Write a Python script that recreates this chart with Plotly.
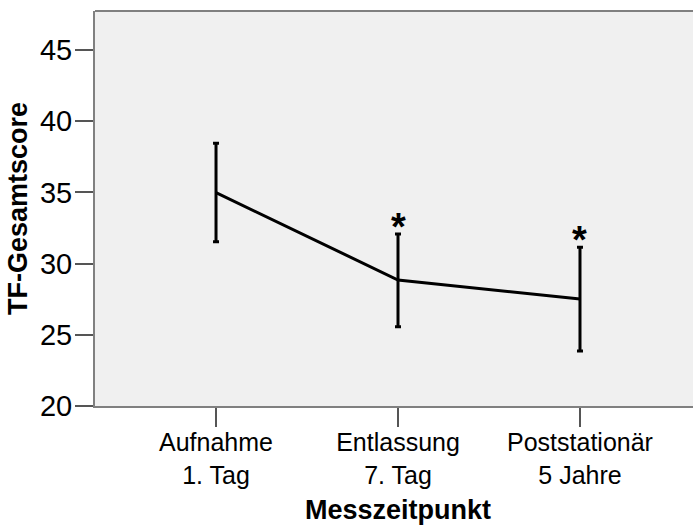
import plotly.graph_objects as go

categories = ["Aufnahme<br>1. Tag", "Entlassung<br>7. Tag", "Poststationär<br>5 Jahre"]
means = [34.98, 28.85, 27.51]
upper = [38.45, 32.08, 31.14]
lower = [31.54, 25.57, 23.86]
significant = [False, True, True]
y_ticks = [20, 25, 30, 35, 40, 45]

x_pos = list(range(len(categories)))
err_plus = [u - m for u, m in zip(upper, means)]
err_minus = [m - l for m, l in zip(means, lower)]

FONT = "Liberation Sans, Arial, sans-serif"

fig = go.Figure()
fig.add_trace(go.Scatter(
    x=x_pos, y=means, mode="lines",
    line=dict(color="black", width=3),
    error_y=dict(type="data", symmetric=False, array=err_plus, arrayminus=err_minus,
                 color="black", thickness=3, width=3),
    showlegend=False, hoverinfo="skip",
))

for xi, up, sig in zip(x_pos, upper, significant):
    if sig:
        fig.add_annotation(x=xi, y=up, text="<b>*</b>", showarrow=False,
                           yanchor="bottom", yshift=-16,
                           font=dict(family=FONT, size=38, color="black"))

fig.add_annotation(text="<b>Messzeitpunkt</b>", xref="paper", yref="paper",
                   x=(398 - 95) / 598, y=-(510 - 406) / 395,
                   xanchor="center", yanchor="middle", showarrow=False,
                   font=dict(family=FONT, size=27, color="black"))

fig.add_shape(type="line", xref="paper", yref="paper", x0=0, x1=1, y0=1, y1=1,
              line=dict(color="#808080", width=2))

fig.update_layout(
    width=693, height=525,
    margin=dict(l=95, r=0, t=11, b=119),
    paper_bgcolor="white", plot_bgcolor="#f0f0f0",
    font=dict(family=FONT, color="black"),
    xaxis=dict(
        range=[-0.665, 2.621], tickmode="array", tickvals=x_pos, ticktext=categories,
        showgrid=False, zeroline=False,
        showline=True, linecolor="#808080", linewidth=2,
        ticks="outside", ticklen=19, tickwidth=1.5, tickcolor="#555555",
        ticklabelstandoff=-6,
        tickfont=dict(family=FONT, size=25, color="black"),
    ),
    yaxis=dict(
        range=[20, 47.74], tickmode="array", tickvals=y_ticks,
        showgrid=False, zeroline=False,
        showline=True, linecolor="#808080", linewidth=2,
        ticks="outside", ticklen=18, tickwidth=1.5, tickcolor="#555555",
        ticklabelstandoff=-3,
        tickfont=dict(family=FONT, size=29, color="black"),
        title=dict(text="<b>TF-Gesamtscore</b>", font=dict(family=FONT, size=27, color="black"), standoff=4),
    ),
)

fig.write_html("out.html")
